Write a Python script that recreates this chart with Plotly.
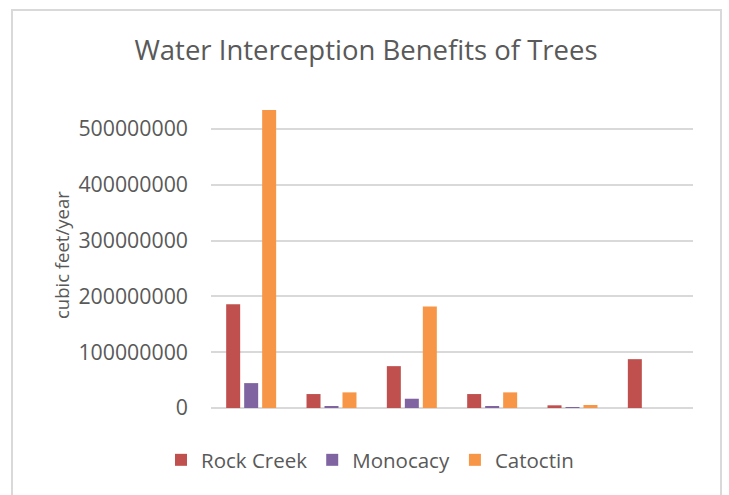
import plotly.graph_objects as go

categories = ["1", "2", "3", "4", "5", "6"]
rock_creek = [186e6, 25e6, 75e6, 25e6, 4.8e6, 87.5e6]
monocacy = [44.6e6, 2.4e6, 16.6e6, 2.4e6, 0.5e6, 0]
catoctin = [534e6, 28e6, 182e6, 28e6, 5.4e6, 0]

W, H = 729, 495
L, R, T, B = 211, 36, 101, 87

fig = go.Figure()
for name, vals, col in [("Rock Creek", rock_creek, "#C0504D"),
                        ("Monocacy", monocacy, "#8064A2"),
                        ("Catoctin", catoctin, "#F79646")]:
    fig.add_trace(go.Bar(x=categories, y=vals, name=name,
                         marker=dict(color=col, line=dict(width=0))))

pw = W - L - R
ph = H - T - B
fig.add_shape(type="rect", xref="paper", yref="paper",
              x0=(12 - L) / pw, x1=(721 - L) / pw,
              y0=(H - T - 520) / ph, y1=(H - B - 10) / ph,
              line=dict(color="#d9d9d9", width=2), fillcolor="rgba(0,0,0,0)", layer="below")

fig.add_annotation(text="cubic feet/year", xref="paper", yref="paper",
                   x=(61 - L) / pw, y=(H - B - 255) / ph, xanchor="center", yanchor="middle",
                   textangle=-90, showarrow=False, font=dict(size=18.5, color="#595959"))

fig.update_layout(
    width=W, height=H,
    margin=dict(l=L, r=R, t=T, b=B),
    paper_bgcolor="white", plot_bgcolor="white",
    font=dict(family="Open Sans", color="#595959"),
    title=dict(text="Water Interception Benefits of Trees", x=(366) / W, xanchor="center",
               y=1 - 50 / H, yanchor="middle", font=dict(size=27.5, color="#595959")),
    barmode="group", bargap=0.328, bargroupgap=0.222,
    showlegend=True,
    legend=dict(orientation="h", x=(370 - L) / pw, xanchor="center", y=-(460 - (H - B)) / ph,
                yanchor="middle", font=dict(size=20.5, color="#595959"), itemwidth=30,
                traceorder="normal"),
    xaxis=dict(showticklabels=False, showgrid=False, showline=False, zeroline=False, ticks=""),
    yaxis=dict(range=[0, 550e6], dtick=100e6, tickformat="d", showgrid=True, gridcolor="#d9d9d9",
               gridwidth=1.5, zeroline=True, zerolinecolor="#d9d9d9", zerolinewidth=1.5,
               showline=False, ticks="", ticklabelstandoff=22,
               tickfont=dict(size=21.3, color="#595959")),
)

fig.write_html("out.html")
